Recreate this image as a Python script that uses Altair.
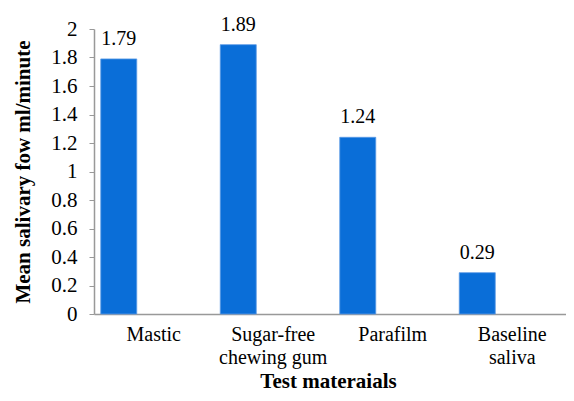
import altair as alt
import pandas as pd

categories = ["Mastic", "Sugar-free|chewing gum", "Parafilm", "Baseline|saliva"]
values = [1.79, 1.89, 1.24, 0.29]
labels = ["1.79", "1.89", "1.24", "0.29"]
y_ticks = [0, 0.2, 0.4, 0.6, 0.8, 1, 1.2, 1.4, 1.6, 1.8, 2]

df = pd.DataFrame({"material": categories, "flow": values, "label": labels})

FONT = "Liberation Serif"
BLUE = "#0A6ED8"

x = alt.X("material:N", sort=categories,
          scale=alt.Scale(paddingInner=0, paddingOuter=0, range=[0, 478]),
          axis=alt.Axis(title="Test materaials", labelAngle=0,
                        labelExpr="split(datum.label, '|')",
                        labelFont=FONT, labelFontSize=20, labelColor="#000",
                        labelLineHeight=23, labelPadding=10, labelBaseline="top",
                        ticks=False, domainColor="#999", domainWidth=1.5,
                        titleFont=FONT, titleFontSize=21, titleFontWeight="bold",
                        titleColor="#000", titleBaseline="alphabetic",
                        titleY=73, titleX=234))
y = alt.Y("flow:Q",
          scale=alt.Scale(domain=[0, 2], nice=False),
          axis=alt.Axis(title="Mean salivary fow ml/minute", values=y_ticks,
                        format="~g", grid=False, tickSize=5, tickColor="#999",
                        domainColor="#999", domainWidth=1.5, labelOverlap=False,
                        labelFont=FONT, labelFontSize=21, labelColor="#000", labelPadding=12,
                        titleFont=FONT, titleFontSize=21, titleFontWeight="bold",
                        titleColor="#000", titlePadding=17))

base = alt.Chart(df).encode(x=x, y=y)
bars = base.mark_bar(size=36, xOffset=-35, color=BLUE,
                     stroke="#5A9BE6", strokeWidth=0.8)
text = base.mark_text(dx=-35, dy=-14, baseline="alphabetic", font=FONT,
                      fontSize=20, color="#000").encode(text="label:N")

chart = (bars + text).properties(
    width=472, height=285, background="white",
    padding={"left": 86, "top": 21, "right": 0, "bottom": 78},
    autosize=alt.AutoSizeParams(type="none"),
).configure_view(stroke=None)

chart.save("out.html", embed_options={"renderer": "svg", "actions": False})
